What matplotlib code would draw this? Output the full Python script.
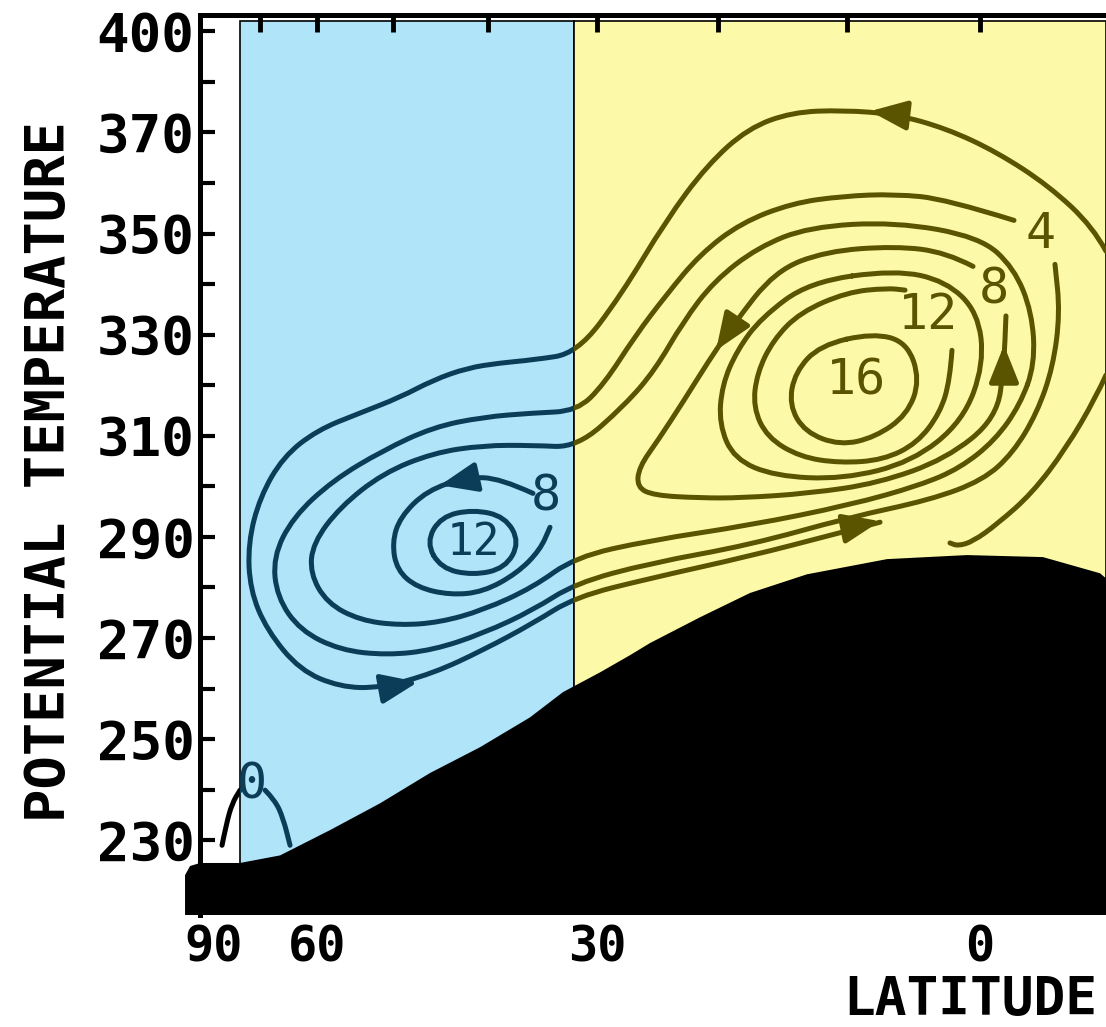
import numpy as np
import matplotlib
matplotlib.use('Agg')
import matplotlib.pyplot as plt
from matplotlib.path import Path
from matplotlib.patches import PathPatch, Rectangle

# x is sine of latitude, y is potential temperature (K)
# streamlines
outer_mu = [-0.1645, -0.1475, -0.0901, -0.0222, 0.0444, 0.111, 0.1789, 0.2454, 0.3029, 0.3564, 0.4099, 0.4687,
            0.5261, 0.5836, 0.6266, 0.6697, 0.7141, 0.7572, 0.8094, 0.8655, 0.9099, 0.940, 0.9556, 0.953,
            0.9308, 0.8877, 0.8355, 0.7833, 0.7141, 0.6488, 0.5836, 0.5287, 0.4308, 0.3003, 0.1958, 0.1305]
outer_th = [346.5, 351.3, 359.4, 366.1, 370.8, 373.6, 374.4, 374.0, 370.8, 363.5, 352.6, 337.8,
            326.3, 325.0, 324.4, 323.4, 321.0, 317.6, 314.5, 311.1, 305.8, 297.9, 288.8, 279.5,
            271.5, 263.6, 260.3, 260.1, 263.0, 267.6, 272.9, 278.1, 281.8, 286.2, 290.3, 292.9]

c4_mu = [-0.0444, 0.0444, 0.111, 0.1789, 0.2454, 0.312, 0.3655, 0.4099, 0.4504, 0.4909, 0.5261, 0.5836,
         0.6488, 0.7141, 0.7794, 0.8446, 0.8969, 0.923, 0.9178, 0.8877, 0.8355, 0.7742, 0.7141, 0.6488,
         0.5836, 0.5287, 0.4308, 0.3003, 0.1697, 0.0653, -0.0039, -0.0431, -0.0744, -0.0953, -0.1044, -0.0979]
c4_th = [352.6, 356.8, 357.8, 357.4, 356.0, 352.1, 345.9, 337.8, 329.7, 320.2, 314.9, 314.5,
         313.7, 311.7, 307.1, 301.2, 293.9, 286.0, 278.1, 271.5, 267.6, 266.6, 267.6, 270.9,
         275.5, 280.8, 284.8, 288.4, 293.9, 297.3, 301.2, 306.6, 314.5, 323.6, 334.3, 343.9]

c6_mu = [-0.0718, -0.0679, -0.0444, 0.0, 0.111, 0.2232, 0.2898, 0.3473, 0.3877, 0.4243, 0.4634, 0.5261,
         0.5836, 0.6488, 0.7141, 0.7794, 0.8355, 0.8708, 0.8747, 0.8525, 0.8094, 0.7572, 0.705, 0.6488,
         0.5836, 0.5287, 0.4308, 0.3003, 0.1697, 0.0783, 0.0261, -0.0196, -0.0522]
c6_th = [324.2, 334.4, 343.2, 349.3, 352.3, 351.3, 347.3, 340.6, 332.5, 323.0, 316.1, 307.7,
         308.1, 308.1, 306.6, 302.6, 295.9, 288.8, 282.8, 276.9, 273.5, 272.5, 273.1, 275.5,
         280.0, 286.0, 289.3, 292.3, 296.3, 300.2, 303.6, 309.1, 316.1]

b8_mu = [0.5836, 0.6266, 0.6697, 0.7219, 0.7572, 0.7676, 0.7611, 0.735, 0.6919, 0.6488, 0.6044, 0.5744, 0.5614]
b8_th = [298.6, 301.6, 301.8, 299.2, 293.9, 288.8, 283.4, 280.0, 278.5, 279.1, 282.8, 287.4, 291.9]

b12_mu = [0.7230, 0.7040, 0.6619, 0.6200, 0.6010, 0.6200, 0.6619, 0.7040]
b12_th = [288.9, 294.0, 295.4, 294.0, 288.9, 283.8, 282.4, 283.8]

y8_mu = [0.0091, 0.0444, 0.111, 0.201, 0.2676, 0.3225, 0.3551, 0.3864, 0.4204, 0.4452, 0.4478, 0.4256, 0.3655,
         0.312, 0.2232, 0.1332, 0.0444, -0.0222, -0.0313, -0.0339]
y8_th = [343.5, 346.3, 347.5, 346.5, 342.6, 331.9, 324.6, 317.0, 309.1, 303.8, 299.8, 298.2, 297.7,
         297.7, 298.6, 300.6, 305.4, 313.5, 324.2, 333.7]

y10_mu = [0.111, 0.0444, 0.0026, -0.0052, 0.0222, 0.0888, 0.1789, 0.2676, 0.3211, 0.3407, 0.3368, 0.3172, 0.2859, 0.2232]
y10_th = [342.8, 340.6, 334.4, 324.2, 312.9, 304.8, 301.4, 302.0, 305.4, 312.3, 320.0, 326.9, 333.3, 340.4]

y12_mu = [0.0366, 0.0392, 0.0522, 0.0822, 0.1266, 0.1828, 0.235, 0.2781, 0.2963, 0.2911, 0.2702, 0.235,
          0.1736, 0.1214, 0.0979]
y12_th = [326.9, 321.0, 314.5, 308.5, 305.2, 304.6, 305.8, 309.7, 315.7, 322.4, 328.9, 334.4,
          338.4, 339.2, 338.8]

y16_mu = [0.1397, 0.0953, 0.0783, 0.0953, 0.1371, 0.1828, 0.2285, 0.2493, 0.2415, 0.2089]
y16_th = [330.3, 328.5, 321.0, 314.1, 309.7, 308.1, 310.7, 316.1, 322.6, 327.9]

hook_mu = [-0.1645, -0.1514, -0.1123, -0.0679, -0.0222, 0.0091, 0.0287, 0.0392]
hook_th = [322.0, 317.6, 307.5, 298.6, 292.5, 289.1, 288.2, 288.8]

pole_a_mu = [0.9896, 0.9843, 0.9765, 0.9661]
pole_a_th = [229.0, 233.0, 237.3, 239.9]
pole_b_mu = [0.9334, 0.9204, 0.9099, 0.9008]
pole_b_th = [239.9, 237.9, 234.4, 229.0]

# ground (black)
terr_mu = [1.0379, 1.0379, 1.0313, 1.0183, 0.9661, 0.9138, 0.8486, 0.7833, 0.718, 0.6527, 0.5875, 0.5444,
           0.4961, 0.4569, 0.4308, 0.3655, 0.3003, 0.2258, 0.1214, 0.017, -0.0822, -0.1567, -0.1645, -0.1645]
terr_th = [215.2, 223.1, 224.9, 225.5, 225.5, 227.0, 232.0, 237.3, 243.3, 248.4, 254.3, 259.3,
           263.2, 266.6, 269.0, 274.1, 278.9, 282.6, 285.6, 286.4, 286.0, 282.8, 281.8, 215.2]

# arrows: (tail mu, tail theta, tip mu, tip theta)
arrows = [(0.0979, 373.4, 0.1436, 374.2),
          (0.7768, 260.1, 0.7337, 261.3),
          (0.6632, 301.6, 0.705, 300.2),
          (0.3225, 331.9, 0.3446, 326.9),
          (-0.0313, 321.0, -0.0313, 327.9),
          (0.1697, 291.9, 0.1305, 293.1)]

# contour labels
lab_text = ['4', '8', '12', '16', '8', '12', '0']
lab_mu = [-0.0796, -0.0183, 0.0679, 0.1619, 0.5666, 0.6619, 0.9504]
lab_th = [349.9, 339.0, 333.9, 321.0, 297.9, 288.9, 241.1]
lab_size = [36, 36, 36, 36, 36, 32, 36]

band_lat = [75, 32]          # polar band edges (deg)
x_tick_lat = [90, 60, 30, 0]
x_tick_lab = ['90', '60', '30', '0']
top_tick_lat = [0, 10, 20, 30, 40, 50, 60, 70]
y_ticks = [230, 250, 270, 290, 310, 330, 350, 370, 390]
y_tick_lab = ['230', '250', '270', '290', '310', '330', '350', '370', '400']

plt.rcParams['font.family'] = 'DejaVu Sans Mono'
plt.rcParams['font.weight'] = 'bold'

BLUE = '#b0e4f8'
YELLOW = '#fcfaa9'
C_BLUE = '#0c3d58'
C_YEL = '#5a5400'
LW = 3.6


def smooth(xs, ys, closed=False):
    p = np.column_stack([xs, ys])
    if closed:
        m = (p + np.roll(p, -1, axis=0)) / 2
        verts = [m[-1]]
        codes = [Path.MOVETO]
        for i in range(len(p)):
            verts += [p[i], m[i]]
            codes += [Path.CURVE3, Path.CURVE3]
    else:
        verts = [p[0]]
        codes = [Path.MOVETO]
        for i in range(1, len(p) - 1):
            verts += [p[i], (p[i] + p[i + 1]) / 2]
            codes += [Path.CURVE3, Path.CURVE3]
        verts.append(p[-1])
        codes.append(Path.LINETO)
    return Path(verts, codes)


fig = plt.figure(figsize=(11.06, 10.27), dpi=100)
ax = fig.add_axes([0.1673, 0.1090, 0.8327, 0.8763])
ax.set_xlim(1.0379, -0.1645)
ax.set_ylim(215.2, 393.2)
x0, x1 = ax.get_xlim()
y0, y1 = ax.get_ylim()

b_left, b_right = np.sin(np.radians(band_lat))
rect_top = 392.0
blue = Rectangle((b_left, y0), b_right - b_left, rect_top - y0, fc=BLUE, ec='black', lw=1.2, zorder=1)
yel = Rectangle((b_right, y0), x1 - b_right, rect_top - y0, fc=YELLOW, ec='black', lw=1.2, zorder=1)
ax.add_patch(blue)
ax.add_patch(yel)

clips = [(Rectangle((x0, y0), b_left - x0, y1 - y0, transform=ax.transData), 'black'),
         (Rectangle((b_left, y0), b_right - b_left, y1 - y0, transform=ax.transData), C_BLUE),
         (Rectangle((b_right, y0), x1 - b_right, y1 - y0, transform=ax.transData), C_YEL)]

curves = [(outer_mu, outer_th, False), (c4_mu, c4_th, False), (c6_mu, c6_th, True),
          (b8_mu, b8_th, False), (b12_mu, b12_th, True), (y8_mu, y8_th, False),
          (y10_mu, y10_th, True), (y12_mu, y12_th, False), (y16_mu, y16_th, True),
          (hook_mu, hook_th, False), (pole_a_mu, pole_a_th, False), (pole_b_mu, pole_b_th, False)]

for xs, ys, closed in curves:
    path = smooth(xs, ys, closed)
    for clip, col in clips:
        pp = PathPatch(path, fill=False, ec=col, lw=LW, capstyle='round', joinstyle='round', zorder=3)
        ax.add_patch(pp)
        pp.set_clip_path(clip)


def region_color(m):
    if m > b_left:
        return 'black'
    if m > b_right:
        return C_BLUE
    return C_YEL


for tx, ty, hx, hy in arrows:
    ax.annotate('', xy=(hx, hy), xytext=(tx, ty),
                arrowprops=dict(arrowstyle='-|>,head_length=0.75,head_width=0.3', color=region_color(hx),
                                lw=LW, shrinkA=0, shrinkB=0, mutation_scale=30), zorder=4)

for s, m, t, fs in zip(lab_text, lab_mu, lab_th, lab_size):
    ax.text(m, t, s, color=region_color(m), fontsize=fs, fontweight='normal',
            ha='center', va='center', zorder=4)

ax.fill(terr_mu, terr_th, color='black', lw=0, zorder=5)

# axes frame and ticks
ax.spines['right'].set_visible(False)
ax.spines['bottom'].set_visible(False)
ax.spines['left'].set_position(('data', 1.0183))
ax.spines['left'].set_linewidth(3.6)
ax.spines['top'].set_linewidth(3.6)
ax.spines['top'].set_bounds(1.0183, x1)

ax.set_yticks(y_ticks)
ax.set_yticklabels(y_tick_lab)
ax.set_yticks(np.arange(240, 390, 20), minor=True)
ax.tick_params(axis='y', which='both', direction='in', length=11, width=3, labelsize=39, pad=4)

ax.set_xticks(np.sin(np.radians(x_tick_lat)))
ax.set_xticklabels(x_tick_lab)
ax.tick_params(axis='x', length=0, labelsize=35, pad=6)

tw = ax.twiny()
tw.set_xlim(x0, x1)
tw.set_xticks(np.sin(np.radians(top_tick_lat)))
tw.set_xticklabels([])
tw.tick_params(axis='x', direction='in', length=12, width=3.5)
for sp in tw.spines.values():
    sp.set_visible(False)

fig.text(50 / 1106, 1 - 472 / 1027, 'POTENTIAL TEMPERATURE', rotation=90, fontsize=40,
         ha='center', va='center')
fig.text(1097 / 1106, 1 - 1000 / 1027, 'LATITUDE', fontsize=38, ha='right', va='center')

fig.savefig('out.png', dpi=100)
